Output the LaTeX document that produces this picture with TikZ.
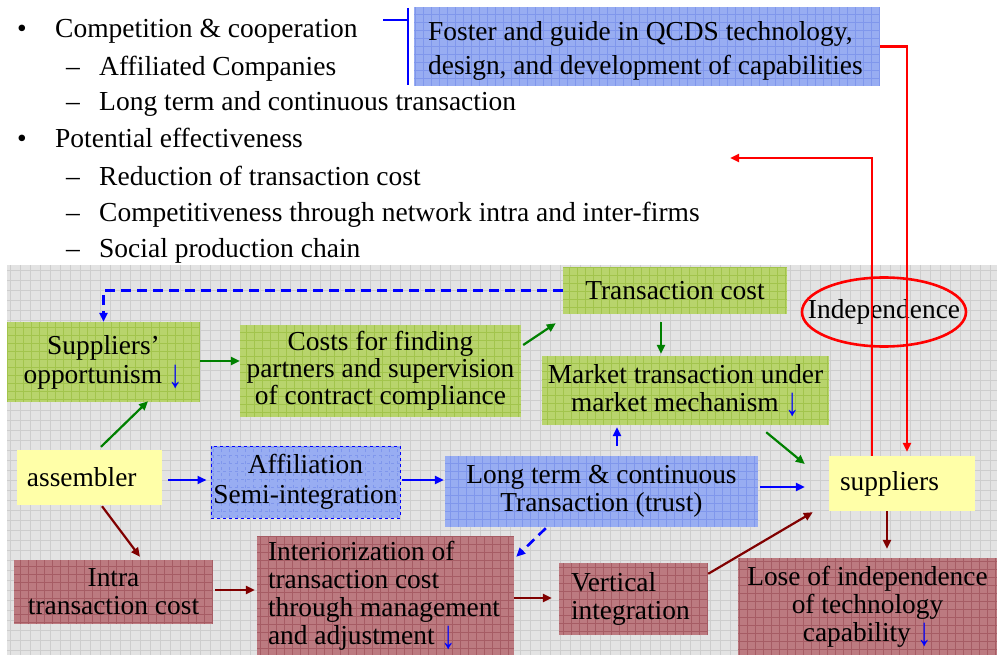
\documentclass[tikz,border=0pt]{standalone}
\usepackage{fontspec}
\usepackage{graphicx}
\setmainfont{Liberation Serif}
\usetikzlibrary{arrows.meta}

\definecolor{bggray}{HTML}{E3E3E3}
\definecolor{bggrid}{HTML}{CDCDCD}
\definecolor{boxgreen}{HTML}{B8D46C}
\definecolor{gridgreen}{HTML}{A2C44C}
\definecolor{boxblue}{HTML}{98ADF2}
\definecolor{gridblue}{HTML}{8097EC}
\definecolor{boxred}{HTML}{BC7A80}
\definecolor{gridred}{HTML}{A65C64}
\definecolor{boxyellow}{HTML}{FFFFA8}
\definecolor{arrgreen}{HTML}{008000}
\definecolor{arrred}{HTML}{800000}

% tall blue "decrease" arrow used inside the boxes
\newcommand{\fall}{\textcolor{blue}{\raisebox{-4pt}{\scalebox{1.05}[1.45]{↓}}}}

\begin{document}
\begin{tikzpicture}[x=1pt,y=-1pt,
  txt/.style={font=\fontsize{27.4}{28}\selectfont},
  box/.style={txt, rectangle, inner sep=0pt, align=center},
  gridded/.style={path picture={\draw[#1, line width=0.7pt, step=8pt]
      (path picture bounding box.south west) grid (path picture bounding box.north east);}},
  gbox/.style={box, fill=boxgreen, gridded=gridgreen},
  bbox/.style={box, fill=boxblue, gridded=gridblue},
  rbox/.style={box, fill=boxred, gridded=gridred},
  ybox/.style={box, fill=boxyellow},
  tip/.style={-{Triangle[length=9pt,width=8pt]}},
  garrow/.style={tip, draw=arrgreen, line width=2.2pt},
  barrow/.style={tip, draw=blue, line width=2.2pt},
  bdash/.style={tip, draw=blue, line width=2.6pt, dash pattern=on 10pt off 6pt},
  rarrow/.style={tip, draw=arrred, line width=2.2pt},
  redline/.style={tip, draw=red, line width=2.6pt},
  bullet/.style={font=\fontsize{27.5}{28}\selectfont, anchor=base west, inner sep=0pt}
]
\useasboundingbox (0,0) rectangle (997,655);

% shaded backdrop of the diagram area
\fill[bggray] (7,265) rectangle (997,655);
\draw[bggrid, line width=0.8pt, step=10pt] (7,265) grid (997,655);

% bullet list
\node[bullet] (m1) at (17,38) {•};
\node[bullet] (t1) at (55,38) {Competition \& cooperation};
\node[bullet] (m2) at (66,76) {–};
\node[bullet] (t2) at (99,76) {Affiliated Companies};
\node[bullet] (m3) at (66,111) {–};
\node[bullet] (t3) at (99,111) {Long term and continuous transaction};
\node[bullet] (m4) at (17,148) {•};
\node[bullet] (t4) at (55,148) {Potential effectiveness};
\node[bullet] (m5) at (66,186) {–};
\node[bullet] (t5) at (99,186) {Reduction of transaction cost};
\node[bullet] (m6) at (66,222) {–};
\node[bullet] (t6) at (99,222) {Competitiveness through network intra and inter-firms};
\node[bullet] (m7) at (66,258) {–};
\node[bullet] (t7) at (99,258) {Social production chain};

% capability box with its bracket
\node[bbox, minimum width=466pt, minimum height=79pt] (fo) at (647,46.5) {};
\node[txt, font=\fontsize{27.4}{34}\selectfont, align=flush left, inner sep=0pt, anchor=west] (fot) at (428,50.5)
  {Foster and guide in QCDS technology,\\design, and development of capabilities};
\draw[blue, line width=2pt] (383,20) -- (408,20) (408,8) -- (408,85);

% boxes
\node[gbox, minimum width=224pt, minimum height=47pt] (tc) at (675,290.5) {Transaction cost};
\node[gbox, font=\fontsize{27.4}{29}\selectfont, minimum width=193pt, minimum height=80pt] (so) at (103.5,362)
  {Suppliers’\\opportunism \fall};
\node[gbox, font=\fontsize{27.4}{27}\selectfont, minimum width=281pt, minimum height=92pt] (cf) at (380.5,371)
  {Costs for finding\\partners and supervision\\of contract compliance};
\node[gbox, minimum width=287pt, minimum height=69pt] (mt) at (685.5,390.5)
  {Market transaction under\\market mechanism \fall};
\node[ybox, align=flush left, text width=125pt, inner xsep=10pt, minimum width=145pt, minimum height=55pt] (as) at (89.5,477.5) {assembler};
\node[bbox, draw=blue, dashed, line width=1pt, font=\fontsize{27.4}{30}\selectfont,
      minimum width=189pt, minimum height=72pt] (af) at (305.5,482)
  {Affiliation\\Semi-integration};
\node[bbox, minimum width=313pt, minimum height=71pt] (lt) at (601.5,491.5)
  {Long term \& continuous\\Transaction (trust)};
\node[ybox, align=flush left, text width=124pt, inner xsep=11pt, minimum width=146pt, minimum height=55pt] (su) at (902,483.5) {suppliers};
\node[rbox, minimum width=199pt, minimum height=64pt] (it) at (113.5,592)
  {Intra\\transaction cost};
\node[rbox, align=flush left, text width=235pt, inner xsep=11pt, minimum width=257pt, minimum height=119pt] (ir) at (385.5,595.5)
  {Interiorization of\\transaction cost\\through management\\and adjustment \fall};
\node[rbox, align=flush left, text width=125pt, inner xsep=12pt, minimum width=149pt, minimum height=72pt] (vi) at (633.5,599)
  {Vertical\\integration};
\node[rbox, minimum width=259pt, minimum height=97pt] (lo) at (867.5,606.5)
  {Lose of independence\\of technology\\capability \fall};

% the independence ring
\node[txt, inner sep=0pt] (ind) at (884,312) {Independence};
\draw[red, line width=2.6pt] (ind.center) ellipse [x radius=82, y radius=34.5];

% green connectors
\draw[garrow] (so.east |- 0,361) -- (cf.west |- 0,361);
\draw[garrow] ([shift={(2,-26)}]cf.east) -- ([shift={(-7,9)}]tc.south west);
\draw[garrow] ([shift={(-14,8)}]tc.south) -- ([shift={(-24.5,-2)}]mt.north);
\draw[garrow] ([shift={(11.5,-3)}]as.north) -- ([shift={(44.5,-1)}]so.south);
\draw[garrow] ([shift={(-63,7)}]mt.south east) -- ([shift={(-24,-19.5)}]su.west);

% blue connectors
\draw[barrow] ([shift={(6,2.5)}]as.east) -- ([shift={(-4,-2)}]af.west);
\draw[barrow] ([shift={(1,-2)}]af.east) -- ([shift={(-1,-11.5)}]lt.west);
\draw[barrow] ([shift={(2,-4.5)}]lt.east) -- ([shift={(-24,3.5)}]su.west);
\draw[bdash] ([shift={(15.5,-10)}]lt.north) -- ([shift={(-68.5,2)}]mt.south);
\draw[bdash] ([shift={(101,1)}]lt.south west) -- ([shift={(2,21)}]ir.north east);
\draw[bdash] (tc.west) -| (so.north);

% dark red connectors
\draw[rarrow] ([shift={(12.5,1)}]as.south) -- ([shift={(26.5,-3)}]it.north);
\draw[rarrow] ([shift={(2,-2)}]it.east) -- ([shift={(-2,-5.5)}]ir.west);
\draw[rarrow] ([shift={(0,2.5)}]ir.east) -- ([shift={(-7,-1)}]vi.west);
\draw[rarrow] ([shift={(0,11)}]vi.north east) -- ([shift={(-16,1)}]su.south west);
\draw[rarrow] ([shift={(-15,0)}]su.south) -- ([shift={(19.5,-9)}]lo.north);

% red feedback lines
\coordinate (back) at (730,158);
\draw[redline] (fo.east) -| ([shift={(5,-4)}]su.north);
\draw[redline] ([xshift=-30]su.north) |- (back);
\end{tikzpicture}
\end{document}
